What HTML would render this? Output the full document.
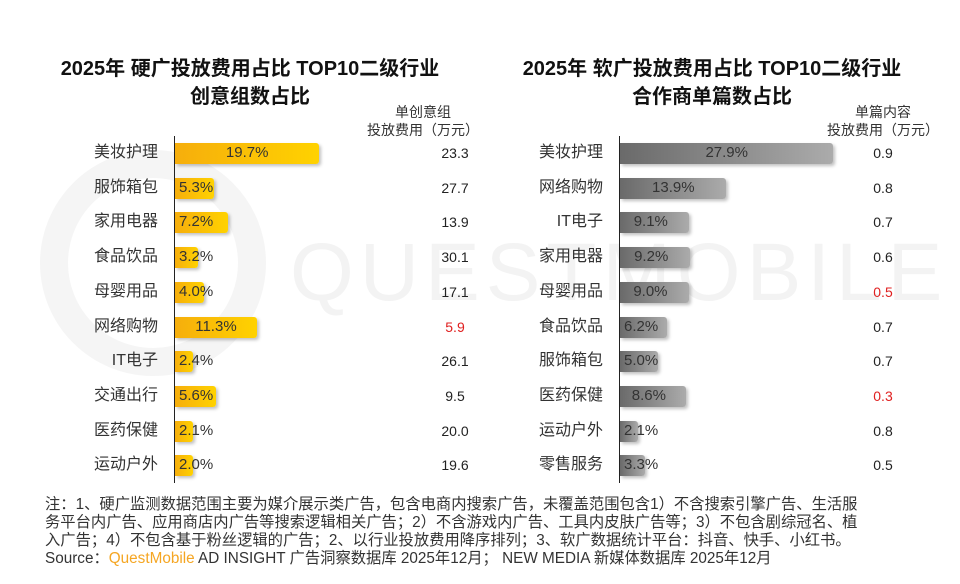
<!DOCTYPE html><html><head><meta charset="utf-8"><style>
body{margin:0;width:960px;height:584px;background:#fff;position:relative;overflow:hidden;font-family:"Liberation Sans","Noto Sans CJK SC",sans-serif;color:#222}
.a{position:absolute;white-space:nowrap}
.t{font-weight:bold;font-size:20px;text-align:center;width:460px;color:#111}
.lab{font-size:16px;text-align:right;width:110px;color:#333;line-height:20px}
.bar{position:absolute;height:21px;border-radius:0 3px 3px 0;box-shadow:2px 2px 3px rgba(0,0,0,.25)}
.y{background:linear-gradient(90deg,#f6ae0c,#ffd200)}
.g{background:linear-gradient(90deg,#6a6a6a,#ababab)}
.pv{font-size:15px;color:#333}
.v{font-size:14px;width:60px;text-align:center;color:#222}
.h{font-size:14px;text-align:center;width:140px;color:#333;line-height:18px}
.ax{position:absolute;width:1px;background:#222}
.fn{font-size:15.3px;color:#333;line-height:18px;left:45px}
</style></head><body>
<div class="a" style="left:40px;top:150px;width:170px;height:170px;border:28px solid #f5f5f5;border-radius:50%"></div>
<div class="a" style="left:290px;top:228px;font-size:82px;color:#f3f3f3;letter-spacing:6px;line-height:90px">QUESTMOBILE</div>
<div class="a t" style="left:20px;top:52px">2025年 硬广投放费用占比 TOP10二级行业</div>
<div class="a t" style="left:20px;top:80px">创意组数占比</div>
<div class="a t" style="left:482px;top:52px">2025年 软广投放费用占比 TOP10二级行业</div>
<div class="a t" style="left:482px;top:80px">合作商单篇数占比</div>
<div class="a h" style="left:353px;top:103px">单创意组<br>投放费用（万元）</div>
<div class="a h" style="left:813px;top:103px">单篇内容<br>投放费用（万元）</div>
<div class="ax" style="left:174px;top:136px;height:347px"></div>
<div class="ax" style="left:619px;top:136px;height:347px"></div>
<div id="c"></div>
<div class="a fn" style="top:496px">注：1、硬广监测数据范围主要为媒介展示类广告，包含电商内搜索广告，未覆盖范围包含1）不含搜索引擎广告、生活服</div>
<div class="a fn" style="top:514px">务平台内广告、应用商店内广告等搜索逻辑相关广告；2）不含游戏内广告、工具内皮肤广告等；3）不包含剧综冠名、植</div>
<div class="a fn" style="top:532px">入广告；4）不包含基于粉丝逻辑的广告；2、以行业投放费用降序排列；3、软广数据统计平台：抖音、快手、小红书。</div>
<div class="a fn" style="top:550px">Source：<span style="color:#f5a623">QuestMobile</span> AD INSIGHT 广告洞察数据库 2025年12月； NEW MEDIA 新媒体数据库 2025年12月</div>
<script>
var L=[["美妆护理",19.7,"23.3"],["服饰箱包",5.3,"27.7"],["家用电器",7.2,"13.9"],["食品饮品",3.2,"30.1"],["母婴用品",4.0,"17.1"],["网络购物",11.3,"5.9",1],["IT电子",2.4,"26.1"],["交通出行",5.6,"9.5"],["医药保健",2.1,"20.0"],["运动户外",2.0,"19.6"]];
var R=[["美妆护理",27.9,"0.9"],["网络购物",13.9,"0.8"],["IT电子",9.1,"0.7"],["家用电器",9.2,"0.6"],["母婴用品",9.0,"0.5",1],["食品饮品",6.2,"0.7"],["服饰箱包",5.0,"0.7"],["医药保健",8.6,"0.3",1],["运动户外",2.1,"0.8"],["零售服务",3.3,"0.5"]];
var h="";
function side(D,x0,sc,cls,lx,vx){D.forEach(function(d,i){var cy=153+i*34.7;var w=Math.max(d[1]*sc,18);
h+='<div class="a lab" style="left:'+lx+'px;top:'+(cy-10)+'px">'+d[0]+'</div>';
h+='<div class="bar '+cls+'" style="left:'+(x0+1)+'px;top:'+(cy-10)+'px;width:'+w+'px"></div>';
var big=w>60;var tx=big?(x0+w/2-20):(x0+5);
h+='<div class="a pv" style="left:'+tx+'px;top:'+(cy-9)+'px">'+d[1].toFixed(1)+'%</div>';
h+='<div class="a v" style="left:'+vx+'px;top:'+(cy-8)+'px;'+(d[3]?'color:#e02020':'')+'">'+d[2]+'</div>';});}
side(L,174,7.3,"y",48,425);
side(R,619,7.63,"g",493,853);
document.getElementById("c").innerHTML=h;
</script>
</body></html>
